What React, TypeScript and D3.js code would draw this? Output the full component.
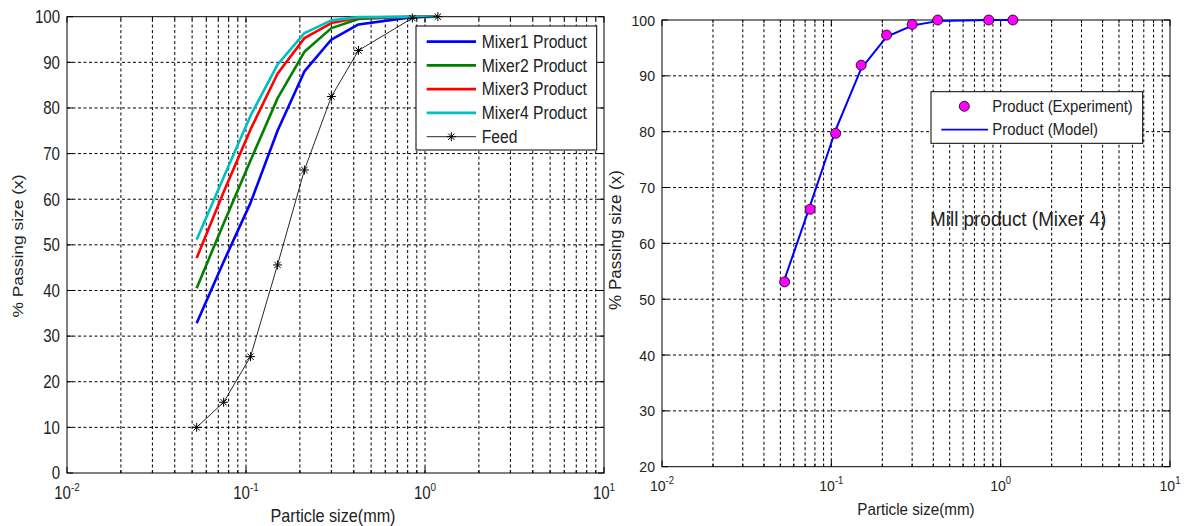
import React from 'react';
import * as d3 from 'd3';

// sieve sizes (mm)
const sizes = [0.053, 0.075, 0.106, 0.15, 0.212, 0.3, 0.425, 0.85, 1.18];

// left chart: % passing
const mixer1 = [32.8, 46.3, 59.2, 75, 88, 95, 98.3, 99.9, 100];
const mixer2 = [40.5, 54.7, 68.5, 82.1, 92.3, 97.5, 99.5, 100, 100];
const mixer3 = [47.1, 61.6, 75.3, 87.5, 95.3, 98.6, 99.8, 100, 100];
const mixer4 = [51.1, 64.8, 78.3, 89.5, 96.4, 99.2, 99.9, 100, 100];
const feed = [10, 15.5, 25.5, 45.6, 66.4, 82.5, 92.6, 99.7, 100];

// right chart: mixer 4 experiment vs model
const experiment = [53.1, 66.1, 79.7, 91.9, 97.3, 99.2, 100, 100, 100];
const model = [53.6, 66.8, 80.3, 91.3, 97, 99, 99.8, 100, 100];

const leftTicks = [0, 10, 20, 30, 40, 50, 60, 70, 80, 90, 100];
const rightTicks = [20, 30, 40, 50, 60, 70, 80, 90, 100];
const decades = [0.01, 0.1, 1];
const decadeLabels = ['-2', '-1', '0', '1'];

const leftSeries = [
  { name: 'Mixer1 Product', values: mixer1, color: '#0000ff' },
  { name: 'Mixer2 Product', values: mixer2, color: '#008000' },
  { name: 'Mixer3 Product', values: mixer3, color: '#ff0000' },
  { name: 'Mixer4 Product', values: mixer4, color: '#00bfbf' },
];

const FONT = 'Liberation Sans, Arial, sans-serif';

// text squeezed horizontally like the stretched original
const T = ({ x, y, size, sx = 1, anchor = 'start', rot = false, children }: any) => (
  <text
    transform={rot ? `translate(${x},${y}) rotate(-90) scale(1,${sx})` : `translate(${x},${y}) scale(${sx},1)`}
    fontSize={size}
    fontFamily={FONT}
    textAnchor={anchor}
    fill="#222"
  >
    {children}
  </text>
);

const star = (s: number) =>
  `M${-s},0H${s}M0,${-s}V${s}M${-0.7 * s},${-0.7 * s}L${0.7 * s},${0.7 * s}M${-0.7 * s},${0.7 * s}L${0.7 * s},${-0.7 * s}`;

const Frame = ({ x, y, ticks, tickFont, tickSx, supFont, labelDy }: any) => {
  const [x0, x1] = x.range();
  const [y0, y1] = y.range();
  const minors: number[] = [];
  decades.forEach((d) => { for (let k = 1; k <= 9; k++) minors.push(k * d); });
  minors.push(10);
  return (
    <g>
      {minors.filter((v) => v > 0.01 && v < 10).map((v, i) => (
        <line key={'v' + i} x1={x(v)} x2={x(v)} y1={y0} y2={y1} stroke="#000" strokeWidth={1} strokeDasharray="3,2.5" />
      ))}
      {ticks.slice(1, -1).map((t: number) => (
        <line key={'h' + t} x1={x0} x2={x1} y1={y(t)} y2={y(t)} stroke="#000" strokeWidth={1} strokeDasharray="3,2.5" />
      ))}
      {/* inward ticks */}
      {minors.map((v, i) => {
        const major = [0.01, 0.1, 1, 10].includes(+v.toPrecision(3));
        const len = major ? 6 : 3;
        return (
          <g key={'t' + i}>
            <line x1={x(v)} x2={x(v)} y1={y0} y2={y0 - len} stroke="#000" />
            <line x1={x(v)} x2={x(v)} y1={y1} y2={y1 + len} stroke="#000" />
          </g>
        );
      })}
      {ticks.map((t: number) => (
        <g key={'yt' + t}>
          <line x1={x0} x2={x0 + 6} y1={y(t)} y2={y(t)} stroke="#000" />
          <line x1={x1} x2={x1 - 6} y1={y(t)} y2={y(t)} stroke="#000" />
          <T x={x0 - 7} y={y(t) + tickFont * 0.36} size={tickFont} sx={tickSx} anchor="end">{t}</T>
        </g>
      ))}
      {[0.01, 0.1, 1, 10].map((v, i) => (
        <text key={'xl' + i} transform={`translate(${x(v)},${y0 + labelDy}) scale(${tickSx},1)`} fontSize={tickFont} fontFamily={FONT} textAnchor="middle" fill="#222">
          10<tspan fontSize={supFont} dy={-tickFont * 0.45}>{decadeLabels[i]}</tspan>
        </text>
      ))}
      <rect x={x0} y={y1} width={x1 - x0} height={y0 - y1} fill="none" stroke="#000" strokeWidth={1} />
    </g>
  );
};

export default function App() {
  const xL = d3.scaleLog().domain([0.01, 10]).range([67, 604]);
  const yL = d3.scaleLinear().domain([0, 100]).range([473, 16.7]);
  const xR = d3.scaleLog().domain([0.01, 10]).range([662, 1170]);
  const yR = d3.scaleLinear().domain([20, 100]).range([466.7, 20]);

  const lineL = (vals: number[]) =>
    d3.line<number>().x((_, i) => xL(sizes[i])).y((v) => yL(v))(vals) as string;
  const lineR = d3.line<number>().x((_, i) => xR(sizes[i])).y((v) => yR(v));

  return (
    <svg width={1185} height={526} style={{ position: 'absolute', left: 0, top: 0, background: '#fff' }}>
      <rect width={1185} height={526} fill="#fff" />

      {/* left chart */}
      <Frame x={xL} y={yL} ticks={leftTicks} tickFont={17.5} tickSx={0.86} supFont={11.5} labelDy={26} />
      {leftSeries.map((s) => (
        <path key={s.name} d={lineL(s.values)} fill="none" stroke={s.color} strokeWidth={2.6} strokeLinejoin="round" />
      ))}
      <path d={lineL(feed)} fill="none" stroke="#111" strokeWidth={0.9} />
      {feed.map((v, i) => (
        <path key={'st' + i} d={star(4.5)} transform={`translate(${xL(sizes[i])},${yL(v)})`} stroke="#000" strokeWidth={1} fill="none" />
      ))}
      <T x={333} y={522} size={18} sx={0.9} anchor="middle">Particle size(mm)</T>
      <T x={23} y={246} size={17.4} sx={0.86} anchor="middle" rot>% Passing size (x)</T>

      {/* left legend */}
      <rect x={416} y={26} width={180.7} height={124} fill="#fff" stroke="#000" />
      {leftSeries.map((s, i) => {
        const ly = 41.7 + i * 23.75;
        return (
          <g key={'lg' + s.name}>
            <line x1={426.7} x2={476} y1={ly} y2={ly} stroke={s.color} strokeWidth={2.8} />
            <T x={481.7} y={ly + 6.2} size={18} sx={0.87}>{s.name}</T>
          </g>
        );
      })}
      <line x1={426.7} x2={476} y1={136.7} y2={136.7} stroke="#111" strokeWidth={0.9} />
      <path d={star(4.5)} transform="translate(451.3,136.7)" stroke="#000" fill="none" />
      <T x={481.7} y={142.9} size={18} sx={0.87}>Feed</T>

      {/* right chart */}
      <Frame x={xR} y={yR} ticks={rightTicks} tickFont={15.5} tickSx={0.91} supFont={10.5} labelDy={24} />
      <path d={lineR(model) as string} fill="none" stroke="#0000ff" strokeWidth={2} strokeLinejoin="round" />
      {experiment.map((v, i) => (
        <circle key={'c' + i} cx={xR(sizes[i])} cy={yR(v)} r={5} fill="#ff00ff" stroke="#000" strokeWidth={0.8} />
      ))}
      <T x={916} y={515} size={16} sx={0.95} anchor="middle">Particle size(mm)</T>
      <T x={621} y={240} size={17} sx={0.92} anchor="middle" rot>% Passing size (x)</T>
      <T x={930} y={226} size={21} sx={0.9}>Mill product (Mixer 4)</T>

      {/* right legend */}
      <rect x={931} y={91.7} width={211.7} height={51.6} fill="#fff" stroke="#000" />
      <circle cx={964.3} cy={106.3} r={5} fill="#ff00ff" stroke="#000" strokeWidth={0.8} />
      <T x={992.3} y={111.6} size={16} sx={0.93}>Product (Experiment)</T>
      <line x1={941.3} x2={988} y1={129.7} y2={129.7} stroke="#0000ff" strokeWidth={1.8} />
      <T x={992.3} y={135} size={16} sx={0.93}>Product (Model)</T>
    </svg>
  );
}
